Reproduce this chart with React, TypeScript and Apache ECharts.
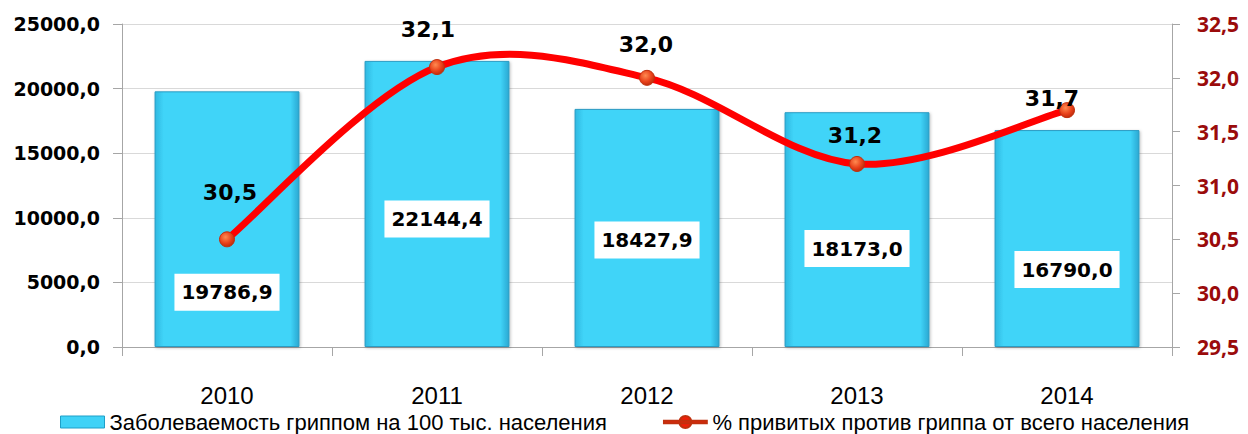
import React, { useEffect, useRef } from "react";
import * as echarts from "echarts";

const years = ["2010", "2011", "2012", "2013", "2014"];
const incidence = [19786.9, 22144.4, 18427.9, 18173.0, 16790.0];
const vaccinated = [30.5, 32.1, 32.0, 31.2, 31.7];
const leftTicks = { min: 0, max: 25000, interval: 5000 };
const rightTicks = { min: 29.5, max: 32.5, interval: 0.5 };
const barName = "Заболеваемость гриппом на 100 тыс. населения";
const lineName = "% привитых против гриппа от всего населения";

const barLabelOffsets = [[0, 73], [0, 15], [0, 12], [0, 19], [0, 31]];
const lineLabelOffsets = [[3, -47], [-9, -38], [-1, -33], [-2, -28], [-15, -12]];

const fmt = (v: number) => v.toFixed(1).replace(".", ",");

export default function App() {
  const ref = useRef<HTMLDivElement>(null);
  useEffect(() => {
    if (!ref.current) return;
    const chart = echarts.init(ref.current, null, { renderer: "svg" });
    const boldFont = "'DejaVu Sans', Verdana, sans-serif";
    const plainFont = "'Noto Sans', 'Open Sans', sans-serif";
    const compactFont = "'Liberation Sans', Arial, sans-serif";
    const tension = 1 / 6;
    const markerFill = {
      type: "radial",
      x: 0.4, y: 0.35, r: 0.7,
      colorStops: [
        { offset: 0, color: "#ff8a50" },
        { offset: 0.6, color: "#e8401a" },
        { offset: 1, color: "#b82a0a" },
      ],
    };
    chart.setOption({
      animation: false,
      backgroundColor: "#ffffff",
      grid: { left: 122, right: 76, top: 24, bottom: 87 },
      legend: {
        left: 60,
        top: 411,
        padding: 0,
        itemWidth: 44,
        itemHeight: 12,
        itemGap: 56,
        textStyle: { fontFamily: compactFont, fontSize: 22, lineHeight: 22, color: "#000" },
        data: [
          {
            name: barName,
            icon: "rect",
            itemStyle: { color: "#3fd2f7", borderColor: "#1e9fc8", borderWidth: 1 },
          },
          {
            name: lineName,
            icon: "path://M0,5.5H50V8.5H0Z M32,7A7,7 0 1 1 18,7A7,7 0 1 1 32,7Z",
            itemStyle: { color: "#f01e08" },
          },
        ],
      },
      xAxis: {
        type: "category",
        data: years,
        axisLine: { lineStyle: { color: "#a6a6a6", width: 1 } },
        axisTick: { show: true, length: 9, lineStyle: { color: "#a6a6a6" } },
        axisLabel: { margin: 36, fontFamily: compactFont, fontSize: 24, lineHeight: 24, color: "#000" },
      },
      yAxis: [
        {
          type: "value",
          min: leftTicks.min,
          max: leftTicks.max,
          interval: leftTicks.interval,
          axisLine: { show: true, lineStyle: { color: "#a6a6a6" } },
          axisTick: { show: true, length: 9, lineStyle: { color: "#a6a6a6" } },
          splitLine: { lineStyle: { color: "#d9d9d9" } },
          axisLabel: {
            margin: 22,
            fontFamily: boldFont,
            fontWeight: "bold",
            fontSize: 19,
            color: "#000",
            formatter: (v: number) => fmt(v),
          },
        },
        {
          type: "value",
          position: "right",
          min: rightTicks.min,
          max: rightTicks.max,
          interval: rightTicks.interval,
          axisLine: { show: true, lineStyle: { color: "#a6a6a6" } },
          axisTick: { show: true, length: 8, lineStyle: { color: "#a6a6a6" } },
          splitLine: { show: false },
          axisLabel: {
            margin: 25,
            fontFamily: plainFont,
            fontWeight: "bold",
            fontSize: 21,
            color: "#9a0b0b",
            formatter: (v: number) => fmt(v),
          },
        },
      ],
      series: [
        {
          name: barName,
          type: "bar",
          yAxisIndex: 0,
          barWidth: "69%",
          data: incidence.map((v, i) => ({
            value: v,
            label: { offset: barLabelOffsets[i] },
          })),
          itemStyle: {
            color: {
              type: "linear",
              x: 0, y: 0, x2: 1, y2: 0,
              colorStops: [
                { offset: 0, color: "#2fb8e0" },
                { offset: 0.06, color: "#40d4f8" },
                { offset: 0.94, color: "#40d4f8" },
                { offset: 1, color: "#2aa8d2" },
              ],
            },
            borderColor: "#2a9cc4",
            borderWidth: 1,
            shadowColor: "rgba(0,0,0,0.25)",
            shadowBlur: 3,
            shadowOffsetX: 1,
            shadowOffsetY: 1,
          },
          label: {
            show: true,
            position: "inside",
            backgroundColor: "#ffffff",
            padding: [10, 7, 7, 7],
            fontFamily: boldFont,
            fontWeight: "bold",
            fontSize: 20,
            color: "#000",
            formatter: (p: any) => fmt(p.value),
          },
          z: 2,
        },
        {
          name: "curve",
          type: "custom",
          yAxisIndex: 1,
          silent: true,
          z: 4,
          data: vaccinated.map((v, i) => [i, v]),
          renderItem: (params: any, api: any) => {
            const i = params.dataIndex;
            const n = vaccinated.length;
            if (i >= n - 1) return null;
            const pt = (j: number) => {
              const k = Math.max(0, Math.min(n - 1, j));
              return api.coord([k, vaccinated[k]]);
            };
            const p0 = pt(i - 1);
            const p1 = pt(i);
            const p2 = pt(i + 1);
            const p3 = pt(i + 2);
            return {
              type: "bezierCurve",
              shape: {
                x1: p1[0],
                y1: p1[1],
                cpx1: p1[0] + (p2[0] - p0[0]) * tension,
                cpy1: p1[1] + (p2[1] - p0[1]) * tension,
                cpx2: p2[0] - (p3[0] - p1[0]) * tension,
                cpy2: p2[1] - (p3[1] - p1[1]) * tension,
                x2: p2[0],
                y2: p2[1],
              },
              style: { stroke: "#ff0000", lineWidth: 7, fill: null, lineCap: "round" },
            };
          },
        },
        {
          name: lineName,
          type: "line",
          yAxisIndex: 1,
          symbol: "circle",
          symbolSize: 15,
          data: vaccinated.map((v, i) => ({
            value: v,
            label: { offset: lineLabelOffsets[i] },
          })),
          lineStyle: { color: "#ff0000", width: 0, opacity: 0 },
          itemStyle: {
            color: markerFill,
            borderColor: "#c0300e",
            borderWidth: 1,
          },
          label: {
            show: true,
            position: "inside",
            fontFamily: boldFont,
            fontWeight: "bold",
            fontSize: 22,
            color: "#000",
            formatter: (p: any) => fmt(p.value),
          },
          z: 5,
        },
      ],
    });
    return () => chart.dispose();
  }, []);
  return (
    <div
      ref={ref}
      style={{ position: "fixed", left: 0, top: 0, width: 1248, height: 434 }}
    />
  );
}
